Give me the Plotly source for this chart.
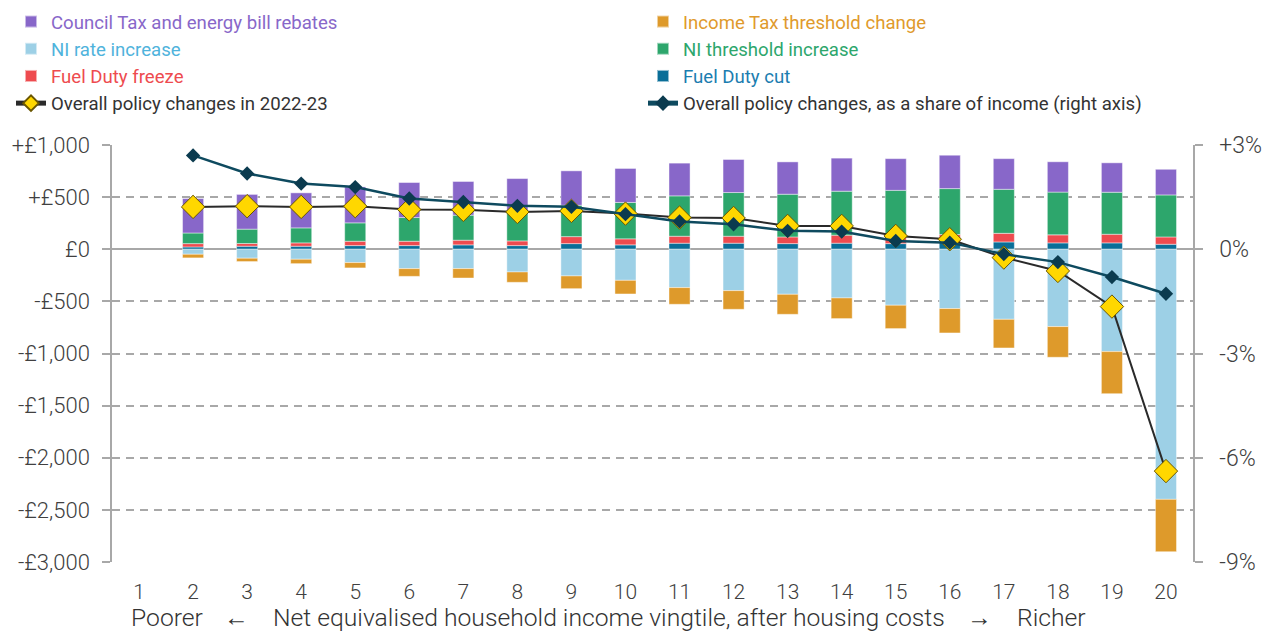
import plotly.graph_objects as go

# ---------------- data ----------------
vingtiles = list(range(1, 21))
tick_labels_x = [str(v) for v in vingtiles]

fuel_duty_cut = [None, 22, 29, 29, 35, 35, 42, 35, 54, 42, 58, 58, 54, 58, 54, 64, 70, 61, 61, 48]
fuel_duty_freeze = [None, 32, 26, 32, 42, 42, 45, 45, 67, 58, 67, 67, 64, 77, 60, 77, 83, 77, 83, 70]
ni_threshold = [None, 102, 138, 144, 176, 227, 240, 288, 301, 349, 387, 419, 410, 422, 451, 441, 422, 410, 403, 403]
council_tax = [None, 330, 333, 336, 345, 336, 323, 310, 330, 326, 314, 317, 310, 317, 304, 320, 294, 291, 282, 246]
ni_rate = [None, -48, -86, -96, -128, -186, -186, -218, -256, -298, -368, -397, -432, -467, -537, -569, -672, -742, -982, -2399]
income_tax = [None, -35, -32, -42, -51, -74, -90, -99, -122, -131, -160, -179, -192, -198, -224, -234, -275, -294, -403, -502]
overall = [None, 406, 413, 406, 413, 381, 378, 358, 368, 342, 304, 300, 224, 224, 128, 96, -80, -208, -550, -2128]
share_pct = [None, 2.70, 2.18, 1.89, 1.79, 1.46, 1.36, 1.25, 1.22, 1.01, 0.80, 0.72, 0.53, 0.51, 0.24, 0.19, -0.14, -0.37, -0.80, -1.28]

left_tickvals = [1000, 500, 0, -500, -1000, -1500, -2000, -2500, -3000]
left_ticktext = ["+£1,000", "+£500", "£0", "-£500", "-£1,000", "-£1,500", "-£2,000", "-£2,500", "-£3,000"]
right_tickvals = [3, 0, -3, -6, -9]
right_ticktext = ["+3%", "0%", "-3%", "-6%", "-9%"]

# ---------------- styles ----------------
C_PURPLE = "#8867C9"
C_LBLUE = "#9DD0E6"
C_RED = "#EE4B4F"
C_ORANGE = "#DE9A2B"
C_GREEN = "#2DA66C"
C_DBLUE = "#0A6E98"
C_YELLOW = "#FFD700"
C_DARK = "#0E4A5F"
GRID = "#A8A8A8"
TXT = "#404040"
FONT = "Roboto, Liberation Sans, sans-serif"

W, H = 1269, 632
L, R, T, B = 112, 76, 145, 70
PW = W - L - R
PH = H - T - B


def px_x(px):
    return (px - L) / PW


def px_y(py):
    return (H - B - py) / PH


def lab(text, color):
    return f'<span style="color:{color}">{text}</span>'


fig = go.Figure()

bar_line = dict(color="rgba(255,255,255,0.55)", width=0.8)
bar_specs = [
    (fuel_duty_cut, "Fuel Duty cut", C_DBLUE, "#1B7DB0", "legend2", 3),
    (fuel_duty_freeze, "Fuel Duty freeze", C_RED, C_RED, "legend", 3),
    (ni_threshold, "NI threshold increase", C_GREEN, C_GREEN, "legend2", 2),
    (council_tax, "Council Tax and energy bill rebates", C_PURPLE, C_PURPLE, "legend", 1),
    (ni_rate, "NI rate increase", C_LBLUE, "#4FB3DC", "legend", 2),
    (income_tax, "Income Tax threshold change", C_ORANGE, "#E09A2C", "legend2", 1),
]
for vals, name, col, tcol, lg, rank in bar_specs:
    fig.add_trace(go.Bar(
        x=vingtiles, y=vals, name=lab(name, tcol), marker=dict(color=col, line=bar_line),
        width=0.39, legend=lg, legendrank=rank, hoverinfo="skip",
    ))

fig.add_trace(go.Scatter(
    x=vingtiles, y=overall, mode="lines+markers", name=lab("Overall policy changes in 2022-23", "#333333"),
    line=dict(color="#2A2A2A", width=2),
    marker=dict(symbol="diamond", size=18, color=C_YELLOW, line=dict(color="#6A5600", width=1)),
    legend="legend", legendrank=4, yaxis="y",
))
fig.add_trace(go.Scatter(
    x=vingtiles, y=share_pct, mode="lines+markers",
    name=lab("Overall policy changes, as a share of income (right axis)", "#333333"),
    line=dict(color=C_DARK, width=2.5),
    marker=dict(symbol="diamond", size=11, color="#0B3B4F"),
    legend="legend2", legendrank=4, yaxis="y2",
))

legend_common = dict(
    orientation="v", yanchor="top", xanchor="left", bgcolor="rgba(0,0,0,0)",
    font=dict(family=FONT, size=18.6, color="#333333"), traceorder="normal",
    itemsizing="constant", tracegroupgap=0,
)

fig.update_layout(
    width=W, height=H,
    margin=dict(l=L, r=R, t=T, b=B, autoexpand=False),
    plot_bgcolor="white", paper_bgcolor="white",
    barmode="relative",
    showlegend=True,
    legend=dict(x=px_x(11), y=px_y(3), **legend_common),
    legend2=dict(x=px_x(643), y=px_y(3), **legend_common),
    xaxis=dict(
        range=[0.5, 20.5], tickvals=vingtiles, ticktext=tick_labels_x,
        showgrid=False, showline=False, zeroline=False, automargin=False,
        ticks="outside", ticklen=0, ticklabelstandoff=11,
        tickfont=dict(family=FONT, size=21, color=TXT, weight=300),
    ),
    yaxis=dict(
        range=[-3000, 1000], tickvals=left_tickvals, ticktext=left_ticktext,
        showgrid=True, gridcolor=GRID, gridwidth=2, griddash="8px,6px",
        zeroline=True, zerolinecolor=GRID, zerolinewidth=1.5,
        showline=True, linecolor=GRID, linewidth=1.5, automargin=False,
        ticks="outside", ticklen=8, tickcolor=GRID, tickwidth=2,
        ticklabelstandoff=8,
        tickfont=dict(family=FONT, size=22, color=TXT, weight=300),
    ),
    yaxis2=dict(
        range=[-9, 3], tickvals=right_tickvals, ticktext=right_ticktext,
        overlaying="y", side="right", showgrid=False, zeroline=False,
        showline=True, linecolor=GRID, linewidth=1.5, automargin=False,
        ticks="outside", ticklen=8, tickcolor=GRID, tickwidth=2,
        ticklabelstandoff=12,
        tickfont=dict(family=FONT, size=23, color=TXT, weight=300),
    ),
)

ann_font = dict(family=FONT, size=24.7, color="#333333", weight=300)
ty = px_y(617)
for text, xpx, anchor in [
    ("Poorer", 129, "left"),
    ("←", 236, "center"),
    ("Net equivalised household income vingtile, after housing costs", 271, "left"),
    ("→", 979, "center"),
    ("Richer", 1015, "left"),
]:
    fig.add_annotation(x=px_x(xpx), y=ty, xref="paper", yref="paper", text=text,
                       showarrow=False, xanchor=anchor, yanchor="middle", font=ann_font)

fig.write_html("out.html", config={"displayModeBar": False},
               post_script="document.body.style.margin='0px';")
